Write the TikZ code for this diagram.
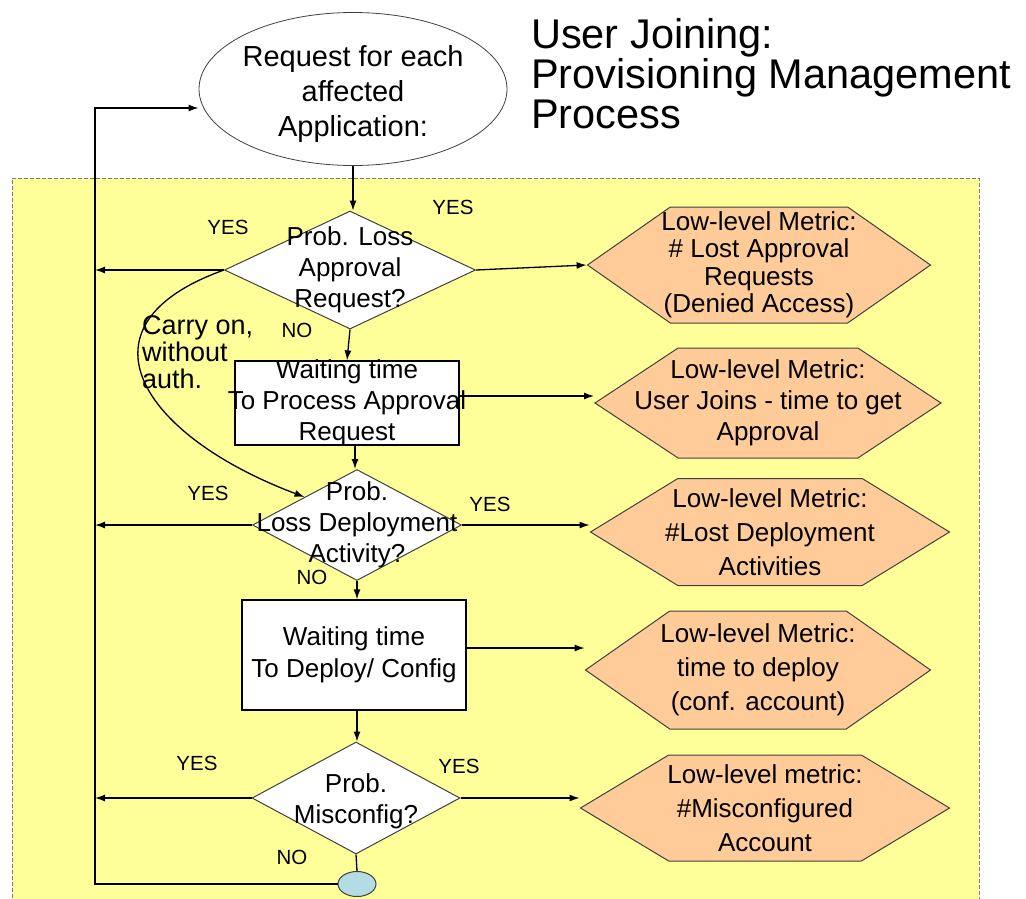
\documentclass[tikz,border=0pt]{standalone}
\usepackage{fontspec}
\setmainfont{Liberation Sans}
\usetikzlibrary{shapes.geometric,shapes.symbols,arrows.meta}
\definecolor{bgyellow}{HTML}{FFFF99}
\definecolor{hexfill}{HTML}{FFCC99}
\definecolor{endblue}{HTML}{B4DCE4}
\definecolor{edgegray}{HTML}{404040}
\begin{document}
\begin{tikzpicture}[x=1pt,y=-1pt,
  conn/.style={line width=1.3pt,-{Latex[length=10pt,width=7pt]}},
  plain/.style={line width=1.3pt},
  decision/.style={diamond, draw=edgegray, line width=1pt, fill=white, inner sep=0pt},
  waitbox/.style={rectangle, draw=black, line width=1.2pt, fill=white, inner sep=0pt},
  metric/.style={signal, signal to=west and east, draw=edgegray, line width=1pt, fill=hexfill, inner sep=0pt},
  answer/.style={font=\fontsize{20.5}{24}\selectfont, inner sep=0pt},
  txt/.style={align=center, font=\fontsize{26}{31}\selectfont, inner sep=0pt}
]
\useasboundingbox (0,0) rectangle (1026,898);
\fill[bgyellow] (12,178) rectangle (979,910);
\draw[gray, line width=1pt, dash pattern=on 4pt off 2pt] (12,910) -- (12,178) -- (979,178) -- (979,910);

% title
\node[anchor=north west, align=left, inner sep=0pt, font=\fontsize{41.5}{40}\selectfont] (title) at (531,18) {User Joining:\\Provisioning Management\\Process};

% main flow
\node[ellipse, draw=edgegray, line width=0.8pt, fill=white, minimum width=308pt, minimum height=153pt, inner sep=0pt,
  label={[txt, font=\fontsize{29}{35}\selectfont, yshift=-5pt]center:{Request for each\\affected\\Application:}}] (e) at (353,89) {};

\node[decision, minimum width=251pt, minimum height=118pt,
  label={[txt]center:{Prob. Loss\\Approval\\Request?}}] (d1) at (350,270) {};
\node[waitbox, minimum width=224pt, minimum height=84pt,
  label={[txt]center:{Waiting time\\To Process Approval\\Request}}] (r1) at (347,403) {};
\node[decision, minimum width=209pt, minimum height=111pt,
  label={[txt]center:{Prob.\\Loss Deployment\\Activity?}}] (d2) at (357,525) {};
\node[waitbox, minimum width=224pt, minimum height=110pt,
  label={[txt, font=\fontsize{26}{32}\selectfont]center:{Waiting time\\To Deploy/ Config}}] (r2) at (354,655) {};
\node[decision, minimum width=208pt, minimum height=112pt,
  label={[txt, yshift=-3pt]center:{Prob.\\Misconfig?}}] (d3) at (356,798) {};
\node[ellipse, draw=edgegray, line width=1pt, fill=endblue, minimum width=38pt, minimum height=25pt, inner sep=0pt] (s) at (357,884) {};

% metrics
\node[metric, signal pointer angle=70, minimum width=343pt, minimum height=116pt,
  label={[txt, font=\fontsize{26}{27.5}\selectfont]center:{Low-level Metric:\\\# Lost Approval\\Requests\\(Denied Access)}}] (h1) at (759,265) {};
\node[metric, signal pointer angle=67, minimum width=346pt, minimum height=110pt,
  label={[txt]center:{Low-level Metric:\\User Joins - time to get\\Approval}}] (h2) at (768,403) {};
\node[metric, signal pointer angle=63, minimum width=359pt, minimum height=107pt,
  label={[txt, font=\fontsize{26}{34}\selectfont]center:{Low-level Metric:\\\#Lost Deployment\\Activities}}] (h3) at (770,532) {};
\node[metric, signal pointer angle=70, minimum width=345pt, minimum height=118pt,
  label={[txt, font=\fontsize{26}{34}\selectfont]center:{Low-level Metric:\\time to deploy\\(conf. account)}}] (h4) at (758,670) {};
\node[metric, signal pointer angle=62, minimum width=369pt, minimum height=106pt,
  label={[txt, font=\fontsize{26}{34}\selectfont]center:{Low-level metric:\\\#Misconfigured\\Account}}] (h5) at (765,808) {};

% answer labels
\node[answer] (y1l) at (228,227) {YES};
\node[answer] (y1r) at (453,207) {YES};
\node[answer] (n1) at (297,330) {NO};
\node[answer] (y2l) at (208,493) {YES};
\node[answer] (y2r) at (490,504) {YES};
\node[answer] (n2) at (312,577) {NO};
\node[answer] (y3l) at (197,763) {YES};
\node[answer] (y3r) at (459,766) {YES};
\node[answer] (n3) at (292,857) {NO};
\node[anchor=north west, align=left, inner sep=0pt, font=\fontsize{27}{27}\selectfont] (carry) at (142,315) {Carry on,\\without\\auth.};

% loop line
\coordinate (lb) at (95,884);
\coordinate (lt) at (95,108);

% connectors
\draw[conn] (e.south) -- (e.south |- d1.north);
\draw[conn] (d1.west) -- (d1.west -| lt);
\draw[conn] (d1.east) -- (h1.west);
\draw[conn] (d1.south) -- (r1.north);
\draw[conn] (d1.west) .. controls (70,325) and (140,435) .. (d2.north west);
\draw[conn] ([yshift=7pt]r1.east) -- ([yshift=7pt]r1.east -| h2.west);
\draw[conn] ([xshift=8pt]r1.south) -- ([xshift=8pt]r1.south |- d2.north);
\draw[conn] (d2.west) -- (d2.west -| lt);
\draw[conn] (d2.east) -- (d2.east -| h3.west);
\draw[conn] (d2.south) -- (d2.south |- r2.north);
\draw[conn] ([yshift=7pt]r2.east) -- ([yshift=7pt]r2.east -| h4.west);
\draw[conn] ([xshift=3pt]r2.south) -- ([xshift=3pt]r2.south |- d3.north);
\draw[conn] (d3.west) -- (d3.west -| lb);
\draw[conn] (d3.east) -- (d3.east -| h5.west);
\draw[plain] (d3.south) -- (s.north);
\draw[conn] (s.west) -- (lb) -- (lt) -- (lt -| e.west);
\end{tikzpicture}
\end{document}
